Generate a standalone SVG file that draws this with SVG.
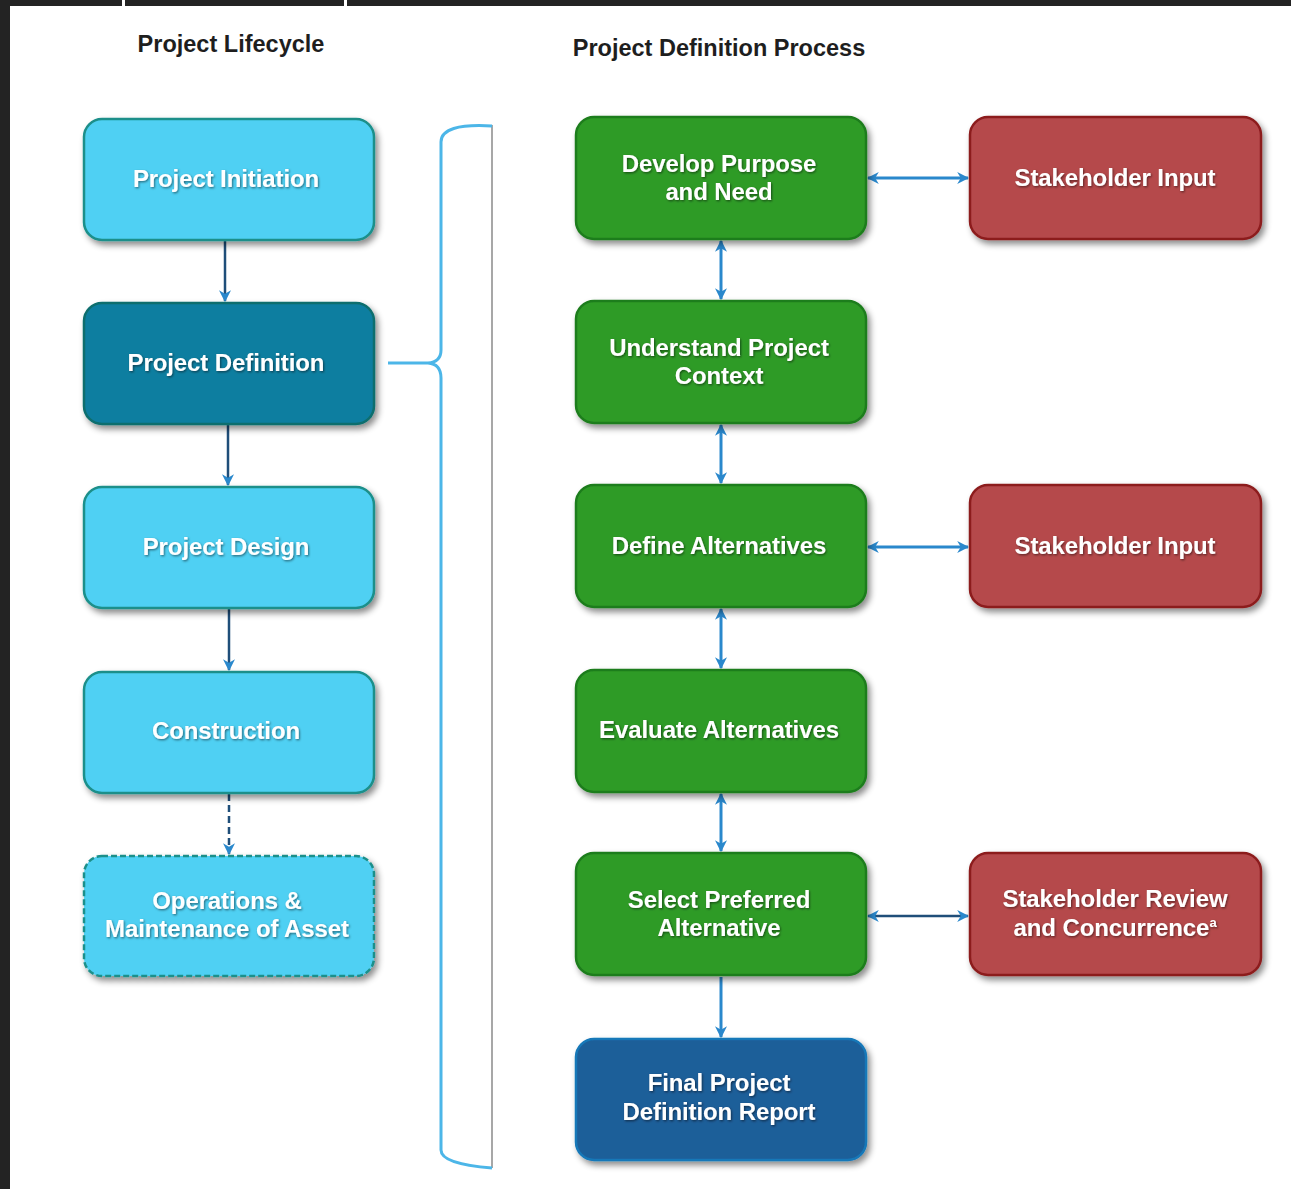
<svg xmlns="http://www.w3.org/2000/svg" width="1291" height="1189" viewBox="0 0 1291 1189">
<style>
.title{font-family:"Liberation Sans",Arial,sans-serif;font-weight:bold;font-size:23.5px;fill:#1e1e1e;letter-spacing:0px;text-anchor:middle}
.lbl{font-family:"Liberation Sans",Arial,sans-serif;font-weight:bold;font-size:24px;fill:#ffffff;letter-spacing:-0.1px;text-anchor:middle;filter:url(#ts)}
.light{fill:#4fd0f3;stroke:#1b8f8a;stroke-width:2.5}
.dark{fill:#107ea0;stroke:#0f6e6e;stroke-width:2.5}
.green{fill:#2f9b27;stroke:#1f7d1d;stroke-width:2.5}
.red{fill:#b5494b;stroke:#8c1c1f;stroke-width:2.5}
.navy{fill:#1e5e99;stroke:#1678b8;stroke-width:2.5}
.box{filter:url(#sh)}
.c{fill:none;stroke:#2a88cc;stroke-width:3}
.cn{fill:none;stroke:#1f4e79;stroke-width:2.5}
</style>
<defs>
<filter id="sh" x="-10%" y="-10%" width="125%" height="130%">
<feDropShadow dx="3" dy="4" stdDeviation="3" flood-color="#000" flood-opacity="0.45"/>
</filter>
<filter id="ts" x="-10%" y="-30%" width="120%" height="160%">
<feDropShadow dx="1" dy="1.2" stdDeviation="1" flood-color="#000" flood-opacity="0.5"/>
</filter>
<marker id="ah" viewBox="0 0 10 10" refX="9" refY="5" markerWidth="12" markerHeight="12" markerUnits="userSpaceOnUse" orient="auto-start-reverse">
<path d="M0,0 L10,5 L0,10 L3,5 z" fill="#2a88cc"/>
</marker>
</defs>
<rect x="0" y="0" width="1291" height="1189" fill="#232323"/>
<rect x="10" y="6" width="1281" height="1183" fill="#ffffff"/>
<rect x="122" y="0" width="3" height="6" fill="#ffffff"/>
<rect x="344" y="0" width="3" height="6" fill="#ffffff"/>

<text class="title" x="231" y="52">Project Lifecycle</text>
<text class="title" x="719" y="56">Project Definition Process</text>

<g id="bracket">
<line x1="492" y1="125" x2="492" y2="1168" stroke="#8a8a8a" stroke-width="1.5"/>
<path d="M492,126 Q441,123 441,142 L441,350 Q441,362 428,363 L388,363 M428,363 Q441,364 441,378 L441,1150 Q441,1164 492,1168" fill="none" stroke="#4cb6e8" stroke-width="3"/>
</g>

<g id="connectors">
<line class="cn" x1="225" y1="241" x2="225" y2="301" marker-end="url(#ah)"/>
<line class="cn" x1="228" y1="425" x2="228" y2="485" marker-end="url(#ah)"/>
<line class="cn" x1="229" y1="609" x2="229" y2="670" marker-end="url(#ah)"/>
<line class="cn" x1="229" y1="794" x2="229" y2="854" stroke-dasharray="7,4" marker-end="url(#ah)"/>
<line class="c" x1="721" y1="241" x2="721" y2="299" marker-start="url(#ah)" marker-end="url(#ah)"/>
<line class="c" x1="721" y1="425" x2="721" y2="483" marker-start="url(#ah)" marker-end="url(#ah)"/>
<line class="c" x1="721" y1="609" x2="721" y2="668" marker-start="url(#ah)" marker-end="url(#ah)"/>
<line class="c" x1="721" y1="794" x2="721" y2="851" marker-start="url(#ah)" marker-end="url(#ah)"/>
<line class="c" x1="721" y1="977" x2="721" y2="1037" marker-end="url(#ah)"/>
<line class="c" x1="868" y1="178" x2="968" y2="178" marker-start="url(#ah)" marker-end="url(#ah)"/>
<line class="c" x1="868" y1="547" x2="968" y2="547" marker-start="url(#ah)" marker-end="url(#ah)"/>
<line class="cn" x1="868" y1="916" x2="968" y2="916" marker-start="url(#ah)" marker-end="url(#ah)"/>
</g>

<g id="project-initiation" class="box">
<rect class="light" x="84" y="119" width="290" height="121" rx="18"/>
<text class="lbl" x="226" y="187">Project Initiation</text>
</g>
<g id="project-definition" class="box">
<rect class="dark" x="84" y="303" width="290" height="121" rx="18"/>
<text class="lbl" x="226" y="371">Project Definition</text>
</g>
<g id="project-design" class="box">
<rect class="light" x="84" y="487" width="290" height="121" rx="18"/>
<text class="lbl" x="226" y="555">Project Design</text>
</g>
<g id="construction" class="box">
<rect class="light" x="84" y="672" width="290" height="121" rx="18"/>
<text class="lbl" x="226" y="739">Construction</text>
</g>
<g id="operations" class="box">
<rect class="light" x="84" y="856" width="290" height="120" rx="18" stroke="#1d5a5a" stroke-dasharray="6,3"/>
<text class="lbl" x="227" y="909">Operations &amp;</text>
<text class="lbl" x="227" y="937">Maintenance of Asset</text>
</g>

<g id="develop-purpose" class="box">
<rect class="green" x="576" y="117" width="290" height="122" rx="18"/>
<text class="lbl" x="719" y="172">Develop Purpose</text>
<text class="lbl" x="719" y="200">and Need</text>
</g>
<g id="understand-context" class="box">
<rect class="green" x="576" y="301" width="290" height="122" rx="18"/>
<text class="lbl" x="719" y="356">Understand Project</text>
<text class="lbl" x="719" y="384">Context</text>
</g>
<g id="define-alternatives" class="box">
<rect class="green" x="576" y="485" width="290" height="122" rx="18"/>
<text class="lbl" x="719" y="554">Define Alternatives</text>
</g>
<g id="evaluate-alternatives" class="box">
<rect class="green" x="576" y="670" width="290" height="122" rx="18"/>
<text class="lbl" x="719" y="738">Evaluate Alternatives</text>
</g>
<g id="select-preferred" class="box">
<rect class="green" x="576" y="853" width="290" height="122" rx="18"/>
<text class="lbl" x="719" y="908">Select Preferred</text>
<text class="lbl" x="719" y="936">Alternative</text>
</g>
<g id="final-report" class="box">
<rect class="navy" x="576" y="1039" width="290" height="121" rx="18"/>
<text class="lbl" x="719" y="1091">Final Project</text>
<text class="lbl" x="719" y="1120">Definition Report</text>
</g>

<g id="stakeholder-input-1" class="box">
<rect class="red" x="970" y="117" width="291" height="122" rx="18"/>
<text class="lbl" x="1115" y="186">Stakeholder Input</text>
</g>
<g id="stakeholder-input-2" class="box">
<rect class="red" x="970" y="485" width="291" height="122" rx="18"/>
<text class="lbl" x="1115" y="554">Stakeholder Input</text>
</g>
<g id="stakeholder-review" class="box">
<rect class="red" x="970" y="853" width="291" height="122" rx="18"/>
<text class="lbl" x="1115" y="907">Stakeholder Review</text>
<text class="lbl" x="1115" y="936">and Concurrence<tspan font-size="13" dy="-9">a</tspan></text>
</g>
</svg>
